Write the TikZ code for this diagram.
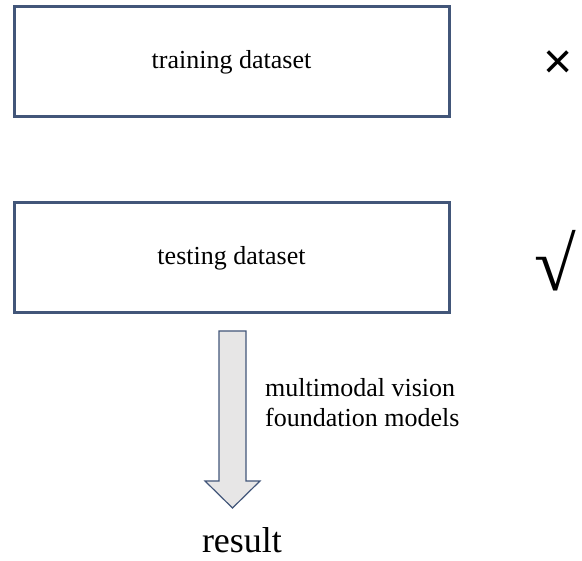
\documentclass[tikz,border=0pt]{standalone}
\usepackage{fontspec}
\setmainfont{Liberation Serif}
\newfontfamily\symsans{Liberation Sans}
\definecolor{boxline}{HTML}{425679}
\definecolor{arrowfill}{HTML}{E7E6E6}
\begin{document}
\begin{tikzpicture}[x=1pt,y=-1pt,
  databox/.style={draw=boxline, line width=3pt, minimum width=435pt, minimum height=110pt, inner sep=0pt, font=\fontsize{26}{30}\selectfont},
  lbl/.style={inner sep=0pt, font=\fontsize{26}{30}\selectfont}]
\useasboundingbox (0,0) rectangle (582,561);
\node[databox] (train) at (231.5,62) {training dataset};
\node[databox] (test) at (231.5,258) {testing dataset};
\node[inner sep=0pt, font=\symsans\fontsize{50}{50}\selectfont] (cross) at (558.5,64.5) {×};
\node[inner sep=0pt, font=\fontsize{76}{76}\selectfont] (check) at (555,261) {√};
% block arrow
\coordinate (atop) at (232.5,331);
\coordinate (atip) at (232.5,508);
\draw[boxline, fill=arrowfill, line width=1.2pt, line join=miter]
  (219,331) -- (246,331) -- (246,481) -- (260,481) -- (atip) -- (205,481) -- (219,481) -- cycle;
\node[lbl, anchor=base west, align=left] (models) at (265,427) {multimodal vision\\foundation models};
\node[inner sep=0pt, anchor=base, font=\fontsize{36}{40}\selectfont] (result) at (242,553) {result};
\end{tikzpicture}
\end{document}
